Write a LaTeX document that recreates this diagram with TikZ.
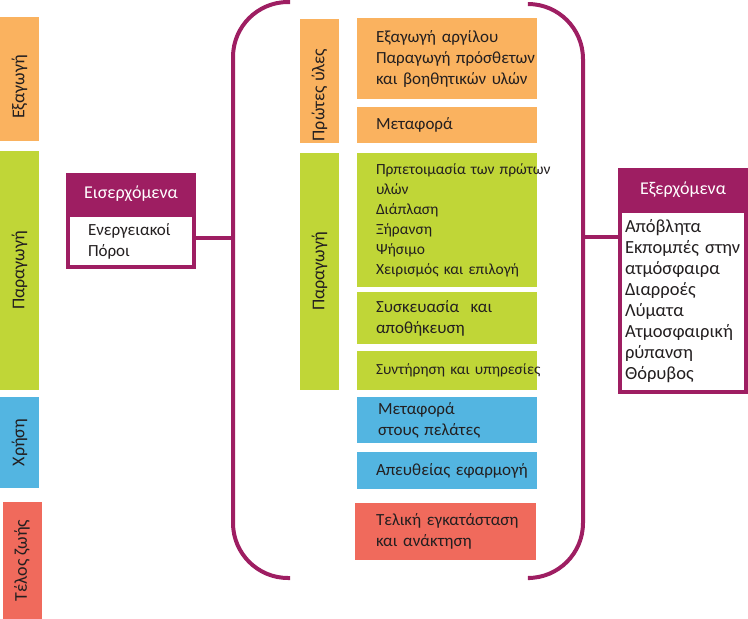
\documentclass[tikz,border=0pt]{standalone}
\usepackage{fontspec}
\setmainfont{Carlito}
\usetikzlibrary{positioning}

\definecolor{ClayOrange}{RGB}{250,178,95}
\definecolor{ClayGreen}{RGB}{192,214,55}
\definecolor{ClayBlue}{RGB}{83,181,225}
\definecolor{ClayRed}{RGB}{240,106,92}
\definecolor{ClayPlum}{RGB}{158,30,98}
\definecolor{ClayText}{RGB}{35,31,32}

\begin{document}
\begin{tikzpicture}
      [
        x=1pt, y=-1pt,
        every node/.style={outer sep=0pt, inner sep=0pt, text=ClayText},
        PhaseBar/.style={rotate=90, minimum height=39, font=\fontsize{18}{20}\selectfont},
        StepBox/.style={minimum width=180, text width=180, align=left, font=\fontsize{17}{21}\selectfont,
          execute at begin node={\leftskip=19pt\relax}},
        HeadBox/.style={fill=ClayPlum, text=white, minimum width=130, font=\fontsize{18}{20}\selectfont},
        FlowBox/.style={draw=ClayPlum, line width=4, fill=white, align=left, font=\fontsize{17}{21}\selectfont},
        Bracket/.style={draw=ClayPlum, line width=4, rounded corners=55},
        Link/.style={draw=ClayPlum, line width=4},
      ]

      \useasboundingbox (0,0) rectangle (748,619);

      % life cycle phases
      \node [PhaseBar, fill=ClayOrange, minimum width=124] (extr) at (19.5,79) {};
      \node [PhaseBar] (extrtext) at ([yshift=-8pt]extr.center) {Εξαγωγή};
      \node [PhaseBar, fill=ClayGreen, minimum width=239] (prod) at (19.5,270.5) {Παραγωγή};
      \node [PhaseBar, fill=ClayBlue, minimum width=91] (use) at (19.5,442.5) {Χρήση};
      \node [PhaseBar, fill=ClayRed, minimum width=117] (eol) at (22,560.5) {Τέλος ζωής};

      % brackets
      \draw [Bracket] (290,2) -- (233,2) -- (233,578) -- (290,578);
      \draw [Bracket] (530,4) -- (583,4) -- (583,578) -- (530,578);

      % stages
      \node [PhaseBar, fill=ClayOrange, minimum width=124] (raw) at (319.5,81) {};
      \node [PhaseBar] (rawtext) at ([yshift=-14pt]raw.center) {Πρώτες ύλες};
      \node [PhaseBar, fill=ClayGreen, minimum width=237] (make) at (319.5,271.5) {Παραγωγή};

      \node [StepBox, fill=ClayOrange, minimum height=81] (s1) at (447,58.5) {Εξαγωγή αργίλου\\\mbox{Παραγωγή πρόσθετων}\\και βοηθητικών υλών};
      \node [StepBox, fill=ClayOrange, minimum height=36] (s2) at (447,125) {Μεταφορά};
      \node [StepBox, fill=ClayGreen, minimum height=134, font=\fontsize{15.5}{20}\selectfont] (s3) at (447,220) {\mbox{Πρπετοιμασία των πρώτων}\\υλών\\Διάπλαση\\Ξήρανση\\Ψήσιμο\\Χειρισμός και επιλογή};
      \node [StepBox, fill=ClayGreen, minimum height=52] (s4) at (447,318) {Συσκευασία~ και\\αποθήκευση};
      \node [StepBox, fill=ClayGreen, minimum height=39, font=\fontsize{15.4}{20}\selectfont] (s5) at (447,370.5) {\mbox{Συντήρηση και υπηρεσίες}};
      \node [StepBox, fill=ClayBlue, minimum height=46, execute at begin node={\leftskip=21pt\relax}] (s6) at (447,420) {Μεταφορά\\στους πελάτες};
      \node [StepBox, fill=ClayBlue, minimum height=37] (s7) at (447,470.5) {Απευθείας εφαρμογή};
      \node [StepBox, fill=ClayRed, minimum height=57, minimum width=181, text width=181, execute at begin node={\leftskip=21pt\relax}] (s8) at (445.5,531.5) {Τελική εγκατάσταση\\και ανάκτηση};

      % inputs and outputs
      \node [HeadBox, minimum height=42] (inhead) at (131,194) {Εισερχόμενα};
      \node [FlowBox, below=0pt of inhead, minimum height=52, text width=86, inner xsep=20] (inbody) {Ενεργειακοί\\Πόροι};

      \node [HeadBox, minimum height=43] (outhead) at (683,189.5) {Εξερχόμενα};
      \node [FlowBox, below=0pt of outhead, minimum height=181, text width=116, inner xsep=5, font=\fontsize{18.5}{21}\selectfont] (outbody) {Απόβλητα\\Εκπομπές~στην\\ατμόσφαιρα\\Διαρροές\\Λύματα\\Ατμοσφαιρική\\ρύπανση\\Θόρυβος};

      \coordinate (inlink) at (233,238);
      \coordinate (outlink) at (583,237);
      \draw [Link] (inbody.east |- inlink) -- (inlink);
      \draw [Link] (outlink) -- (outlink -| outbody.west);
    \end{tikzpicture}
\end{document}
